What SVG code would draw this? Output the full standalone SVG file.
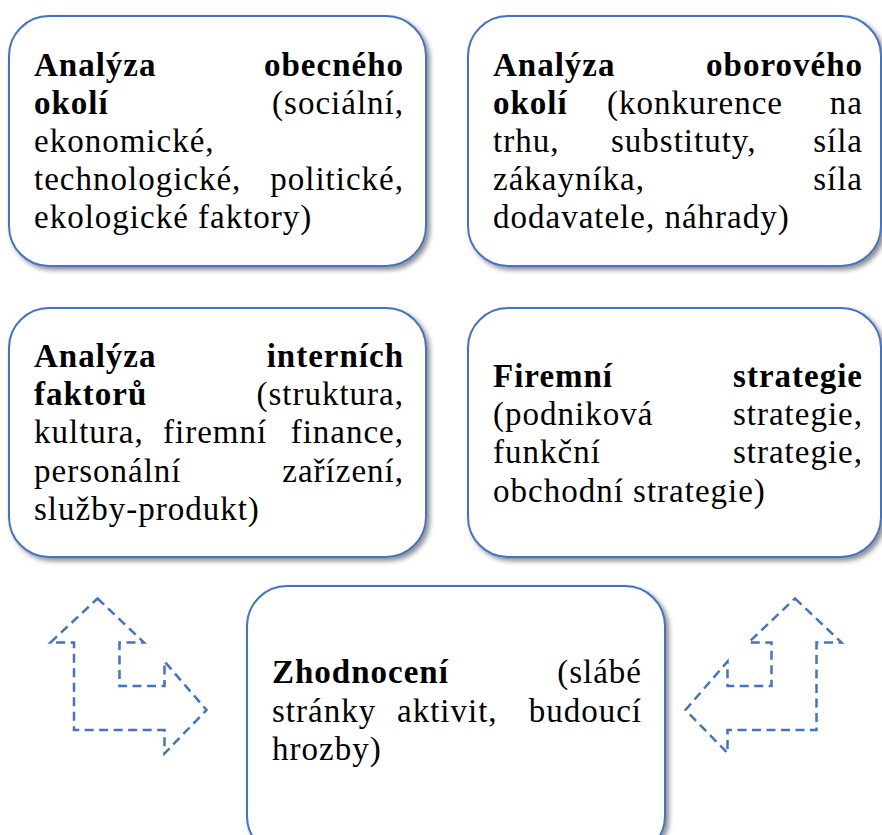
<svg xmlns="http://www.w3.org/2000/svg" width="882" height="835" viewBox="0 0 882 835">
  <style>
    .box { fill: #ffffff; stroke: #4472C4; stroke-width: 2; filter: url(#shadow); }
    .t { font-family: "Liberation Serif", "Times New Roman", "DejaVu Serif", serif; font-size: 33px; letter-spacing: 1px; fill: #000000; }
    .b { font-weight: bold; }
    .e { text-anchor: end; }
    .arrow { fill: none; stroke: #4472C4; stroke-width: 2.5; stroke-dasharray: 9 5.5; stroke-linejoin: miter; }
  </style>
  <defs>
    <filter id="shadow" x="-5%" y="-5%" width="115%" height="115%">
      <feDropShadow dx="3" dy="3" stdDeviation="2.5" flood-color="#000000" flood-opacity="0.45"/>
    </filter>
  </defs>
  <rect width="882" height="835" fill="#ffffff"/>

  <!-- general environment -->
  <g id="obecne-okoli">
    <rect class="box" x="9" y="16" width="417" height="250" rx="40" ry="40"/>
    <text class="t b" x="34" y="76">Analýza</text>
    <text class="t b e" x="404" y="76">obecného</text>
    <text class="t b" x="34" y="114">okolí</text>
    <text class="t e" x="404" y="114">(sociální,</text>
    <text class="t" x="34" y="152">ekonomické,</text>
    <text class="t" x="34" y="190">technologické,</text>
    <text class="t e" x="404" y="190">politické,</text>
    <text class="t" x="34" y="228">ekologické faktory)</text>
  </g>

  <!-- industry environment -->
  <g id="oborove-okoli">
    <rect class="box" x="468" y="16" width="413" height="250" rx="40" ry="40"/>
    <text class="t b" x="493" y="76">Analýza</text>
    <text class="t b e" x="863" y="76">oborového</text>
    <text class="t b" x="493" y="114">okolí</text>
    <text class="t" x="607" y="114">(konkurence</text>
    <text class="t e" x="863" y="114">na</text>
    <text class="t" x="493" y="152">trhu,</text>
    <text class="t" x="611" y="152">substituty,</text>
    <text class="t e" x="863" y="152">síla</text>
    <text class="t" x="493" y="190">zákayníka,</text>
    <text class="t e" x="863" y="190">síla</text>
    <text class="t" x="493" y="228">dodavatele, náhrady)</text>
  </g>

  <!-- internal factors -->
  <g id="interni-faktory">
    <rect class="box" x="9" y="308" width="417" height="249" rx="40" ry="40"/>
    <text class="t b" x="34" y="367">Analýza</text>
    <text class="t b e" x="404" y="367">interních</text>
    <text class="t b" x="34" y="405">faktorů</text>
    <text class="t e" x="404" y="405">(struktura,</text>
    <text class="t" x="34" y="443">kultura,</text>
    <text class="t" x="163" y="443">firemní</text>
    <text class="t e" x="404" y="443">finance,</text>
    <text class="t" x="34" y="482">personální</text>
    <text class="t e" x="404" y="482">zařízení,</text>
    <text class="t" x="34" y="520">služby-produkt)</text>
  </g>

  <!-- company strategy -->
  <g id="firemni-strategie">
    <rect class="box" x="468" y="308" width="413" height="249" rx="40" ry="40"/>
    <text class="t b" x="493" y="387">Firemní</text>
    <text class="t b e" x="863" y="387">strategie</text>
    <text class="t" x="493" y="425">(podniková</text>
    <text class="t e" x="863" y="425">strategie,</text>
    <text class="t" x="493" y="463">funkční</text>
    <text class="t e" x="863" y="463">strategie,</text>
    <text class="t" x="493" y="502">obchodní strategie)</text>
  </g>

  <!-- evaluation -->
  <g id="zhodnoceni">
    <rect class="box" x="247" y="586" width="418" height="270" rx="40" ry="40"/>
    <text class="t b" x="272" y="683">Zhodnocení</text>
    <text class="t e" x="642" y="683">(slábé</text>
    <text class="t" x="272" y="722">stránky</text>
    <text class="t" x="397" y="722">aktivit,</text>
    <text class="t e" x="642" y="722">budoucí</text>
    <text class="t" x="272" y="760">hrozby)</text>
  </g>

  <!-- dashed bent double arrows -->
  <g id="connectors">
    <path class="arrow" d="M97.5,598.5 L144,642.5 L119.5,642.5 L119.5,686 L164.5,686 L164.5,661.5 L206.5,710 L164.5,753.5 L164.5,730 L74,730 L74,642.5 L50.5,642.5 Z"/>
    <path class="arrow" d="M795,598.5 L841.5,642.5 L816.5,642.5 L816.5,730 L727.5,730 L727.5,753 L685.5,710 L727.5,661.5 L727.5,686 L771.5,686 L771.5,642.5 L748.5,642.5 Z"/>
  </g>
</svg>
